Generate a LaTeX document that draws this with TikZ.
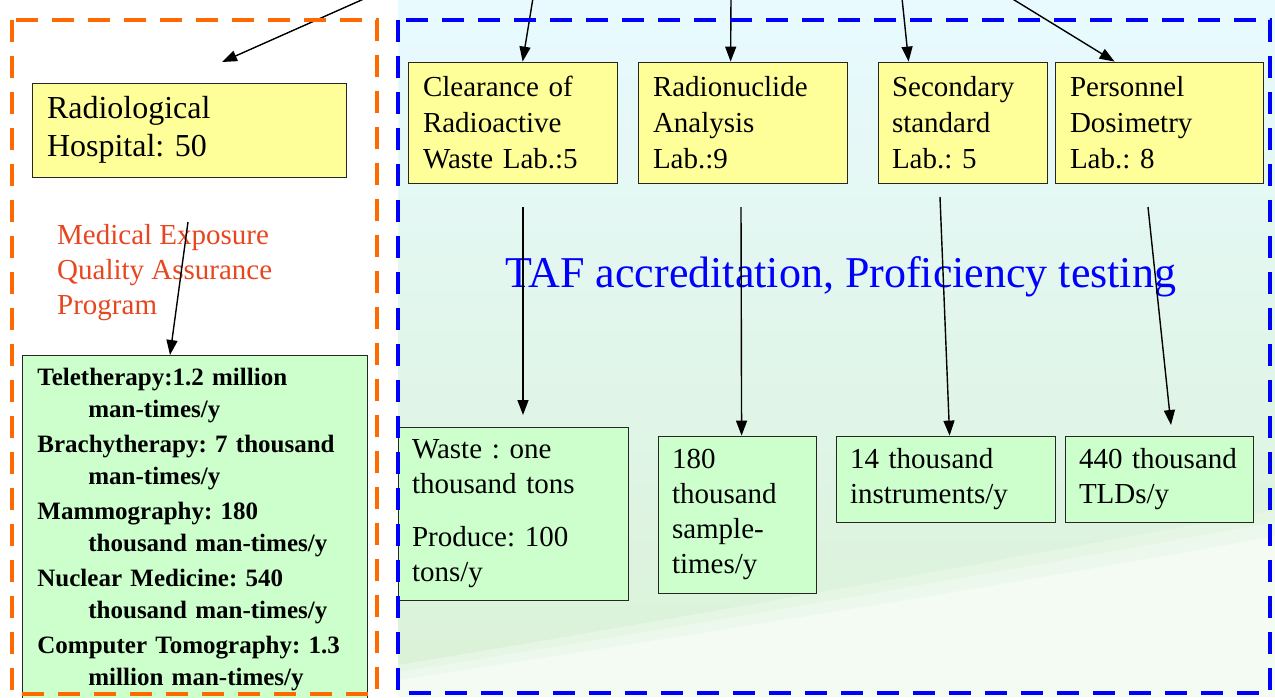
\documentclass[tikz,border=0pt]{standalone}
\usepackage{fontspec}
\setmainfont{Liberation Serif}
\usetikzlibrary{arrows.meta,calc}
\definecolor{yfill}{HTML}{FFFF99}
\definecolor{gfill}{HTML}{CCFFCC}
\definecolor{orng}{HTML}{FF6A00}
\definecolor{blu}{HTML}{0000FF}
\definecolor{redt}{HTML}{E8461E}
\definecolor{bgc}{HTML}{E8FAFF}
\definecolor{bgg}{HTML}{DBF2D8}
\definecolor{bgl}{HTML}{F3FBF3}
\frenchspacing
\begin{document}
\begin{tikzpicture}[x=1pt,y=-1pt,
  arr/.style={-{Triangle[length=15pt,width=11pt]}, line width=1.4pt, draw=black},
  ybx/.style={draw=black!85, line width=0.8pt, fill=yfill, align=left, inner xsep=15pt, inner ysep=0pt, font=\fontsize{29}{36}\selectfont},
  gbx/.style={draw=black!85, line width=0.8pt, fill=gfill, align=left, inner xsep=14pt, inner ysep=0pt, font=\fontsize{29}{35}\selectfont},
  frameo/.style={draw=orng, line width=4.5pt, dash pattern=on 22pt off 14pt},
  frameb/.style={draw=blu, line width=4.5pt, dash pattern=on 22pt off 14pt}]
\useasboundingbox (0,0) rectangle (1275,697);
\clip (0,0) rectangle (1275,697);
% background
\fill[white] (0,0) rectangle (1275,697);
\fill[bgl] (398,300) rectangle (1275,697);
\shade[top color=bgc, bottom color=bgg] (398,0) -- (1275,0) -- (1275,510) .. controls (1000,560) and (700,615) .. (398,665) -- cycle;
\fill[bgg, opacity=0.5] (1275,510) .. controls (1000,560) and (700,615) .. (398,665) -- (398,672) .. controls (700,624) and (1000,572) .. (1275,522) -- cycle;
\fill[bgg, opacity=0.25] (1275,522) .. controls (1000,572) and (700,624) .. (398,672) -- (398,680) .. controls (700,634) and (1000,586) .. (1275,536) -- cycle;

% yellow boxes
\node[ybx, text width=284pt, minimum height=94pt, font=\fontsize{32}{38}\selectfont] (hosp) at (189,130) {Radiological\\Hospital: 50};
\node[ybx, text width=179pt, minimum height=121pt] (clr) at (512.5,122.5) {Clearance of\\Radioactive\\Waste Lab.:5};
\node[ybx, text width=179pt, minimum height=121pt] (rad) at (742.5,122.5) {Radionuclide\\Analysis\\Lab.:9};
\node[ybx, text width=141pt, inner xsep=14pt, minimum height=121pt] (sec) at (962.5,122.5) {Secondary\\standard\\Lab.: 5};
\node[ybx, text width=178pt, minimum height=121pt] (per) at (1159,122.5) {Personnel\\Dosimetry\\Lab.: 8};

% texts
\node[anchor=north west, inner sep=0pt, align=left, text=redt, font=\fontsize{29}{35}\selectfont] (mq) at (57,224) {Medical Exposure\\Quality Assurance\\Program};
\node[anchor=base west, inner sep=0pt, text=blu, font=\fontsize{44}{52}\selectfont] (taf) at (505,287) {TAF accreditation, Proficiency testing};

% green boxes
\node[gbx, anchor=north west, text width=315pt, inner xsep=15pt, inner ysep=13pt, font=\fontsize{25}{32}\selectfont\bfseries] (lg) at (22,355)
 {Teletherapy:1.2 million\\\hspace*{51pt}man-times/y\\[3pt]
  Brachytherapy: 7 thousand\\\hspace*{51pt}man-times/y\\[3pt]
  Mammography: 180\\\hspace*{51pt}thousand man-times/y\\[3pt]
  Nuclear Medicine: 540\\\hspace*{51pt}thousand man-times/y\\[3pt]
  Computer Tomography: 1.3\\\hspace*{51pt}million man-times/y};
\node[gbx, text width=202pt, minimum height=173pt] (waste) at (513,513.5) {Waste : one\\thousand tons\\[18pt]Produce: 100\\tons/y};
\node[gbx, text width=130pt, minimum height=157pt] (n180) at (737,514.5) {180\\thousand\\sample-\\times/y};
\node[gbx, text width=191pt, minimum height=86pt] (n14) at (945.5,479) {14 thousand\\instruments/y};
\node[gbx, text width=160pt, minimum height=86pt] (n440) at (1159,479) {440 thousand\\TLDs/y};

% top arrows
\coordinate (t1) at (366,-2);
\coordinate (t2) at (533,-2);
\coordinate (t3) at (731,-2);
\coordinate (t4) at (902,-2);
\coordinate (t5) at (1011,-2);
\coordinate (e1) at (222,62);
\draw[arr] (t1) -- (e1);
\draw[arr] (t2) -- ($(clr.north west)+(115,0)$);
\draw[arr] (t3) -- ($(rad.north west)+(93,0)$);
\draw[arr] (t4) -- ($(sec.north west)+(31,0)$);
\draw[arr] (t5) -- ($(per.north west)+(60,0)$);

% down arrows
\coordinate (h1) at (188,222);
\coordinate (d1) at (523,207);
\coordinate (d2) at (741,207);
\coordinate (d3) at (940,197);
\coordinate (d4) at (1148,207);
\coordinate (w1) at (523,415);
\coordinate (p1) at (1171,425);
\draw[arr] (h1) -- ($(lg.north west)+(148,0)$);
\draw[arr] (d1) -- (w1);
\draw[arr] (d2) -- ($(n180.north west)+(84,0)$);
\draw[arr] (d3) -- ($(n14.north west)+(114,0)$);
\draw[arr] (d4) -- (p1);

% dashed frames
\draw[frameo] (12,20) rectangle (377,694);
\draw[frameb] (398,20) rectangle (1270,693);
\end{tikzpicture}
\end{document}
